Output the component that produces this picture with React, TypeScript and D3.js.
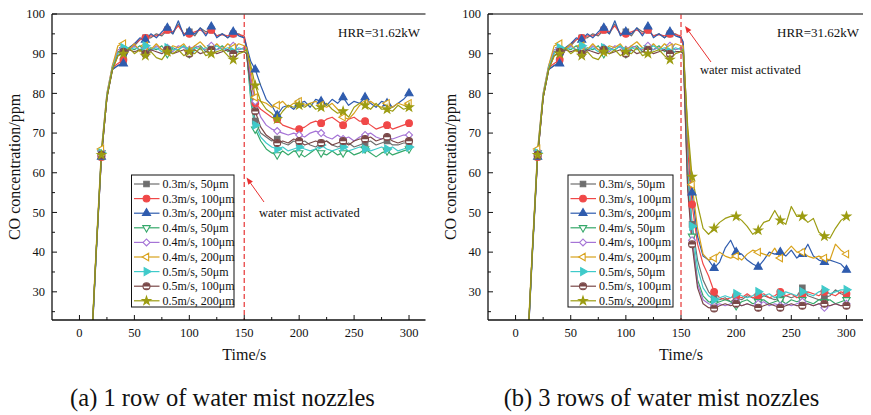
import React from 'react';
import * as d3 from 'd3';

// ---------- DATA ----------
const PRE_T = [10, 15, 20, 25, 30, 35, 40, 45, 50, 55, 60, 65, 70, 75, 80, 85, 90, 95, 100, 105, 110, 115, 120, 125, 130, 135, 140, 145, 150];
const POST_T = [152, 156, 160, 165, 170, 175, 180, 185, 190, 195, 200, 205, 210, 215, 220, 225, 230, 235, 240, 245, 250, 255, 260, 265, 270, 275, 280, 285, 290, 295, 300];

const SERIES_LABELS = ['0.3m/s, 50μm', '0.3m/s, 100μm', '0.3m/s, 200μm', '0.4m/s, 50μm', '0.4m/s, 100μm', '0.4m/s, 200μm', '0.5m/s, 50μm', '0.5m/s, 100μm', '0.5m/s, 200μm'];

// before activation (identical in both panels)
const PRE_GRAY = [10, 38.5, 64, 79, 86, 87, 88, 91, 92, 93.5, 94, 94, 95, 94.5, 96, 95, 97.5, 95, 95.5, 94.5, 96.5, 95.5, 96, 94.5, 95, 94, 95, 95, 94];
const PRE_RED = [10, 39, 64, 79, 86.5, 87.5, 88.5, 91, 92.5, 93.5, 94, 94.5, 94.5, 95, 96, 95.5, 97, 95, 95, 95.5, 96, 95, 96, 94.5, 94.8, 94.5, 95, 94.8, 94.5];
const PRE_BLUE = [10, 38, 64, 79, 86, 87, 87.5, 91.5, 92.5, 94, 93.5, 95, 94, 95.5, 96.5, 95, 98.3, 94.5, 95.5, 95, 96.5, 94.5, 96.8, 94, 95, 94, 95.5, 94.5, 94];
const PRE_GREEN = [11, 39, 65, 79.5, 86.5, 90.5, 91, 91.5, 91, 92, 90.5, 91.5, 91, 92, 90, 91.5, 91, 92, 90, 91.5, 92, 90.5, 91.5, 91, 92, 90.5, 91.5, 91, 91.5];
const PRE_PURPLE = [11, 39, 65.5, 80, 87, 91, 91.5, 91, 92, 91, 91.5, 90.5, 92, 91, 91.5, 90.5, 92, 91.5, 91, 92, 91.5, 91, 92, 91, 91.5, 91, 92, 91, 91.5];
const PRE_ORANGE = [12, 40, 66, 80, 87, 92, 92.5, 91, 92.5, 90.5, 92, 91, 92.5, 91, 90.5, 92, 91.5, 92.5, 90.5, 92, 93, 91.5, 91, 92.5, 91, 92.5, 91.5, 92.5, 92];
const PRE_CYAN = [11, 39, 65, 79.5, 86.5, 90, 91.5, 91, 91.5, 91, 92, 91, 91.5, 90.5, 91.5, 91, 91, 92, 90.5, 91.5, 91, 91.5, 91, 92, 91, 91.5, 90.5, 91.5, 91];
const PRE_BROWN = [11, 39, 64.5, 79, 86, 89.5, 90.5, 91, 90.5, 91, 90, 91, 90.5, 90, 91, 90, 90.5, 91, 90, 91, 90, 90.5, 91, 90, 90.5, 91, 90, 90.5, 90.5];
const PRE_OLIVE = [11, 39, 64.5, 79, 86, 89.5, 90, 91.5, 90, 91, 89.5, 90.5, 89, 88.5, 90.5, 90, 91, 89.5, 90.5, 90, 91.5, 89.5, 90, 90.5, 91, 89.5, 88.5, 90, 90.5];

// (a) 1 row after activation
const A_GRAY = [91, 80, 73, 70, 69, 68, 68.5, 67.5, 67, 68, 67.5, 68, 67, 66.5, 67.5, 68, 67, 66.5, 67, 67.5, 66.5, 67, 67.5, 68, 67, 67.5, 68, 67, 67, 67.5, 67.5];
const A_RED = [92, 84, 77.5, 76, 75, 74, 73.5, 72, 71.5, 71, 71, 71.5, 72.5, 73, 72.5, 73.5, 74, 73, 72, 73.5, 74, 73, 73, 72, 71, 71.5, 72, 71, 71.5, 72, 72.5];
const A_BLUE = [92, 88, 86, 82, 78.5, 77, 74.5, 76.5, 77, 76, 77.5, 78, 76.5, 78.5, 78, 77, 78.5, 77.5, 79, 77, 78, 77.5, 79, 77.5, 76.5, 78, 77.5, 76.5, 77.5, 78.5, 80];
const A_GREEN = [91, 78, 71, 68, 66, 65, 64.5, 65.5, 64.5, 65.5, 65, 64, 65, 66, 65, 64.5, 65.5, 64.5, 65, 65.5, 64.5, 65, 66, 65, 64, 65, 65.5, 64.5, 65, 65.5, 66];
const A_PURPLE = [91, 83, 78, 74, 72, 71, 70.5, 70, 69.5, 70, 69.5, 69, 70, 70.5, 70, 69, 68.5, 69.5, 68.5, 69, 68, 69, 69.5, 70, 69, 68.5, 69, 68.5, 69, 69.5, 69.5];
const A_ORANGE = [91.5, 86, 79, 78, 77.5, 76.5, 77, 78, 76.5, 77.5, 78, 77, 77.5, 78, 77, 76.5, 77.5, 76, 74, 73.5, 75, 77, 77.5, 78, 77, 76.5, 77.5, 76.5, 77.5, 77, 77.5];
const A_CYAN = [91, 79, 72, 69, 67.5, 66.5, 66, 66.5, 65.5, 66, 66.5, 66, 65.5, 66, 67, 66, 65.5, 66, 66.5, 65.5, 66, 66.5, 66, 65.5, 66, 66.5, 66, 66.5, 65.5, 66, 66.5];
const A_BROWN = [90, 81, 75.5, 71.5, 69.5, 68.5, 67.5, 68, 67.5, 68.5, 68, 67, 67.5, 68, 67.5, 68, 67, 67.5, 68, 67, 68, 68.5, 68.5, 69, 68, 68.5, 69, 68, 67.5, 68, 68];
const A_OLIVE = [91, 87, 82, 78, 76, 75, 73.5, 75.5, 77, 76.5, 77, 76.5, 77.5, 76, 76.5, 77.5, 76, 75, 75.5, 74, 76.5, 77.5, 77, 76, 77.5, 76, 76, 75.5, 77, 76, 76.5];

// (b) 3 rows after activation
const B_GRAY = [92, 62, 47, 38, 33, 30, 28.5, 28, 28.5, 27.5, 28.5, 28, 29, 28.5, 28, 29, 28.5, 28, 28.5, 29, 28.5, 29, 31, 29, 28.5, 28, 28.5, 29, 30.5, 29.5, 29];
const B_RED = [92, 66, 52, 42, 37, 34, 30, 28.5, 28, 28.5, 29, 28.5, 29.5, 28.5, 29, 29.5, 28.5, 29, 30, 29, 29.5, 28.5, 29, 30, 29.5, 29, 30, 29.5, 29, 30, 29.5];
const B_BLUE = [93, 70, 55, 44, 39, 38, 36, 37.5, 41, 43, 40, 39.5, 38, 37, 36.3, 38, 40, 39.5, 40, 39, 40.5, 38.5, 39.5, 42, 39, 38, 37.5, 38, 37.5, 37, 35.5];
const B_GREEN = [91, 58, 44, 33, 29, 27.5, 27, 27.5, 28, 27.5, 26.5, 27.5, 28, 27, 27.5, 28, 27, 27.5, 28, 27, 28, 27.5, 28, 27.5, 27, 28, 27.5, 28, 27, 27.5, 28];
const B_PURPLE = [91, 57, 43, 32, 28, 27, 26.5, 27, 26.5, 27, 27.5, 26.5, 27, 26.5, 27, 27.5, 26.5, 27, 26.5, 27, 26.5, 27, 27.5, 27, 26.5, 27, 26, 26.5, 27, 26.5, 27];
const B_ORANGE = [92, 70, 57, 46, 39.5, 38, 38.5, 40, 39, 38.5, 39, 38, 39.5, 40.5, 40, 39.5, 39, 41, 38.5, 40, 41.5, 40, 40, 39, 38.5, 39, 38.5, 38, 42, 40.5, 39.5];
const B_CYAN = [91, 60, 46.5, 36, 31, 29, 28, 28.5, 29, 28.5, 29.5, 29, 28.5, 29, 30, 29, 29.5, 28.5, 29.5, 30, 29.5, 29, 30, 29.5, 29, 30, 30.5, 29.5, 30, 30.5, 30.5];
const B_BROWN = [90, 56, 42, 31, 27, 26, 25.8, 26.5, 27, 26.5, 27, 26.5, 27, 26.5, 26, 26.5, 27, 26.5, 26, 26.5, 27, 26.5, 26.5, 27, 26.5, 27, 27, 26.5, 27, 26.5, 26.5];
const B_OLIVE = [91, 72, 59, 52, 46, 44.5, 46, 47.5, 48.5, 49, 49, 48, 46.5, 44.5, 45.5, 47.5, 48, 50.5, 48, 47, 51.5, 49, 49, 47.5, 48.5, 45, 44, 43.5, 46, 48, 49];

const X_TICKS = [0, 50, 100, 150, 200, 250, 300];
const X_MINOR = [25, 75, 125, 175, 225, 275];
const Y_TICKS = [30, 40, 50, 60, 70, 80, 90, 100];
const Y_MINOR = [25, 35, 45, 55, 65, 75, 85, 95];
const ACTIVATION_T = 150;

const PRE_ALL = [PRE_GRAY, PRE_RED, PRE_BLUE, PRE_GREEN, PRE_PURPLE, PRE_ORANGE, PRE_CYAN, PRE_BROWN, PRE_OLIVE];
const POST_A = [A_GRAY, A_RED, A_BLUE, A_GREEN, A_PURPLE, A_ORANGE, A_CYAN, A_BROWN, A_OLIVE];
const POST_B = [B_GRAY, B_RED, B_BLUE, B_GREEN, B_PURPLE, B_ORANGE, B_CYAN, B_BROWN, B_OLIVE];

// ---------- STYLE ----------
const COLORS = ['#6e6e6e', '#f04848', '#2f5cae', '#35a86a', '#a574d6', '#d8a21c', '#3fcaca', '#7a4848', '#9c9c12'];
const MARKERS = ['square', 'circle', 'triUp', 'triDown', 'diamond', 'triLeft', 'triRight', 'halfCircle', 'star'];
const FONT = '"Liberation Serif", "Times New Roman", serif';

const Y_TOP = 14;
const Y_BOT = 320;

function Marker({ type, x, y, color }: { type: string; x: number; y: number; color: string }) {
  const tr = `translate(${x},${y})`;
  if (type === 'halfCircle') {
    const r = 3.5;
    return (
      <g transform={tr}>
        <circle r={r} fill="#fff" stroke={color} strokeWidth={1.1} />
        <path d={`M${-r},0.2 A${r},${r} 0 0 1 ${r},0.2 Z`} fill={color} />
        <path d={`M${-r * 0.8},2.1 A${r},${r} 0 0 0 ${r * 0.8},2.1 Z`} fill={color} />
      </g>
    );
  }
  let sym: d3.SymbolType = d3.symbolSquare;
  let size = 30;
  let rot = 0;
  let filled = true;
  switch (type) {
    case 'square': sym = d3.symbolSquare; size = 30; break;
    case 'circle': sym = d3.symbolCircle; size = 36; break;
    case 'triUp': sym = d3.symbolTriangle; size = 28; break;
    case 'triDown': sym = d3.symbolTriangle; size = 24; rot = 180; filled = false; break;
    case 'diamond': sym = d3.symbolSquare; size = 24; rot = 45; filled = false; break;
    case 'triLeft': sym = d3.symbolTriangle; size = 24; rot = -90; filled = false; break;
    case 'triRight': sym = d3.symbolTriangle; size = 28; rot = 90; break;
    case 'star': sym = d3.symbolStar; size = 22; break;
  }
  const d = d3.symbol().type(sym).size(size)() || '';
  return (
    <path
      d={d}
      transform={`${tr} rotate(${rot})`}
      fill={filled ? color : '#fff'}
      stroke={color}
      strokeWidth={1.1}
    />
  );
}

interface PanelProps {
  x0: number;
  x1: number;
  post: number[][];
  id: string;
  legendX: number;
  legendW: number;
  hrrX: number;
  noteX: number;
  noteY: number;
  arrow: [number, number, number, number];
  caption: string;
  captionX: number;
}

function Panel(p: PanelProps) {
  const xs = d3.scaleLinear().domain([-25, 315]).range([p.x0, p.x1]);
  const ys = d3.scaleLinear().domain([22.9, 100]).range([Y_BOT, Y_TOP]);
  const line = d3
    .line<[number, number]>()
    .x((d) => xs(d[0]))
    .y((d) => ys(d[1]));

  const series = PRE_ALL.map((pre, i) => {
    const pts: [number, number][] = [];
    PRE_T.forEach((t, j) => pts.push([t, pre[j]]));
    POST_T.forEach((t, j) => pts.push([t, p.post[i][j]]));
    return pts;
  });

  const [ax1, ay1, ax2, ay2] = p.arrow;
  const ang = Math.atan2(ay2 - ay1, ax2 - ax1);
  const hl = 7, hw = 2.8;
  const bx = ax2 - hl * Math.cos(ang), by = ay2 - hl * Math.sin(ang);
  const head = `M${ax2},${ay2} L${bx + hw * Math.sin(ang)},${by - hw * Math.cos(ang)} L${bx - hw * Math.sin(ang)},${by + hw * Math.cos(ang)} Z`;

  const rowH = 14.6;

  return (
    <g fontFamily={FONT}>
      <defs>
        <clipPath id={p.id}>
          <rect x={p.x0} y={Y_TOP} width={p.x1 - p.x0} height={Y_BOT - Y_TOP} />
        </clipPath>
      </defs>

      {/* series lines */}
      <g clipPath={`url(#${p.id})`}>
        {series.map((pts, i) => (
          <path key={i} d={line(pts) || ''} fill="none" stroke={COLORS[i]} strokeWidth={1.2} strokeLinejoin="round" />
        ))}
      </g>
      {/* markers every 20 s */}
      {series.map((pts, i) => (
        <g key={i}>
          {pts
            .filter((d) => d[0] >= 20 && d[0] % 20 === 0)
            .map((d, k) => (
              <Marker key={k} type={MARKERS[i]} x={xs(d[0])} y={ys(d[1])} color={COLORS[i]} />
            ))}
        </g>
      ))}

      {/* activation line */}
      <line x1={xs(ACTIVATION_T)} x2={xs(ACTIVATION_T)} y1={Y_TOP} y2={Y_BOT} stroke="#e84444" strokeWidth={1.3} strokeDasharray="5,3" />

      {/* axes */}
      <line x1={p.x0} x2={p.x1} y1={Y_TOP} y2={Y_TOP} stroke="#555" strokeWidth={1.4} />
      <line x1={p.x0} x2={p.x0} y1={Y_TOP} y2={Y_BOT} stroke="#111" strokeWidth={1.3} />
      <line x1={p.x0} x2={p.x1} y1={Y_BOT} y2={Y_BOT} stroke="#111" strokeWidth={1.3} />
      {Y_TICKS.map((v) => (
        <g key={v}>
          <line x1={p.x0} x2={p.x0 + 5} y1={ys(v)} y2={ys(v)} stroke="#111" strokeWidth={1} />
          <text x={p.x0 - 7} y={ys(v) + 4.3} textAnchor="end" fontSize={12.5} fill="#111">{v}</text>
        </g>
      ))}
      {Y_MINOR.map((v) => (
        <line key={v} x1={p.x0} x2={p.x0 + 3} y1={ys(v)} y2={ys(v)} stroke="#111" strokeWidth={1} />
      ))}
      {X_TICKS.map((v) => (
        <g key={v}>
          <line x1={xs(v)} x2={xs(v)} y1={Y_BOT} y2={Y_BOT - 5} stroke="#111" strokeWidth={1} />
          <text x={xs(v)} y={Y_BOT + 17} textAnchor="middle" fontSize={12.5} fill="#111">{v}</text>
        </g>
      ))}
      {X_MINOR.map((v) => (
        <line key={v} x1={xs(v)} x2={xs(v)} y1={Y_BOT} y2={Y_BOT - 3} stroke="#111" strokeWidth={1} />
      ))}

      {/* axis titles */}
      <text x={xs(150)} y={360} textAnchor="middle" fontSize={16} fill="#111">Time/s</text>
      <text transform={`translate(${p.x0 - 32},167) rotate(-90)`} textAnchor="middle" fontSize={16} fill="#111">CO concentration/ppm</text>

      {/* annotations */}
      <text x={p.hrrX} y={37} fontSize={13} fill="#111">HRR=31.62kW</text>
      <line x1={ax1} y1={ay1} x2={bx} y2={by} stroke="#e83030" strokeWidth={1} />
      <path d={head} fill="#e83030" />
      <text x={p.noteX} y={p.noteY} fontSize={12.5} fill="#111">water mist activated</text>

      {/* legend */}
      <rect x={p.legendX} y={175} width={p.legendW} height={132} fill="#fff" stroke="#111" strokeWidth={1} />
      {SERIES_LABELS.map((lab, i) => {
        const cy = 184 + i * rowH;
        return (
          <g key={lab}>
            <line x1={p.legendX + 2.5} x2={p.legendX + 28} y1={cy} y2={cy} stroke={COLORS[i]} strokeWidth={1.2} />
            <Marker type={MARKERS[i]} x={p.legendX + 15} y={cy} color={COLORS[i]} />
            <text x={p.legendX + 31} y={cy + 4} fontSize={12} fill="#111">{lab}</text>
          </g>
        );
      })}

      {/* caption */}
      <text x={p.captionX} y={406} textAnchor="middle" fontSize={24.5} fill="#111">{p.caption}</text>
    </g>
  );
}

export default function App() {
  return (
    <svg width={871} height={415} viewBox="0 0 871 415" style={{ display: 'block', position: 'absolute', left: 0, top: 0, background: '#fff' }}>
      <rect x={0} y={0} width={871} height={415} fill="#fff" />
      <Panel
        x0={52}
        x1={425.5}
        post={POST_A}
        id="clipA"
        legendX={131.5}
        legendW={102.5}
        hrrX={338}
        noteX={259}
        noteY={217}
        arrow={[264, 202, 246.5, 177.5]}
        caption="(a) 1 row of water mist nozzles"
        captionX={222.5}
      />
      <Panel
        x0={488}
        x1={863}
        post={POST_B}
        id="clipB"
        legendX={568}
        legendW={105}
        hrrX={777}
        noteX={700}
        noteY={74}
        arrow={[711, 62, 685, 26]}
        caption="(b) 3 rows of water mist nozzles"
        captionX={661.5}
      />
    </svg>
  );
}
